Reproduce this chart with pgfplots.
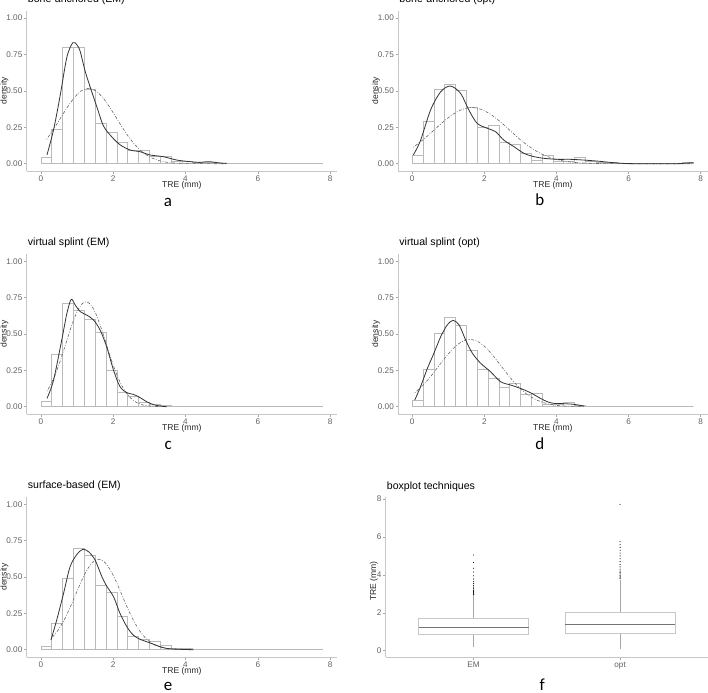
\documentclass[border=0pt]{standalone}
\usepackage{fontspec}
\setmainfont{Liberation Sans}
\newfontfamily\carlito{Carlito}
\usepackage{pgfplots}
\pgfplotsset{compat=1.18}
\usepgfplotslibrary{statistics}

\tikzset{lbl/.style={font=\fontsize{8.6}{10}\selectfont, text=black!85, inner sep=0pt},
         panel/.style={font=\carlito\fontsize{17}{20}\selectfont, anchor=base}}
\pgfplotsset{
  base/.style={
    scale only axis, clip=false,
    axis lines=left,
    axis line style={-, draw=black!22, line width=0.9bp},
    tick align=outside,
    major tick length=2.7bp,
    tick style={draw=black!35, line width=0.5bp},
    /pgf/number format/assume math mode=true,
    every tick label/.append style={inner sep=0pt, font=\fontsize{8.2}{9}\selectfont, text=black!62},
    xticklabel style={anchor=north, yshift=-2bp},
    yticklabel style={anchor=east, xshift=-1.5bp},
    title style={at={(axis description cs:0,1)}, anchor=base west, xshift=1bp, yshift=2.4bp, font=\fontsize{10.6}{12}\selectfont, inner sep=0pt},
  },
  dens/.style={
    base,
    xmin=-0.39, xmax=8.19, ymin=-0.05, ymax=1.05,
    xtick={0,2,4,6,8}, xticklabels={0,2,4,6,8},
    ytick={0,0.25,0.5,0.75,1}, yticklabels={0.00,0.25,0.50,0.75,1.00},
  },
  hist/.style={ybar, bar width=0.3, draw=black!27, fill=white, line width=0.5bp},
  kde/.style={smooth, tension=0.5, draw=black!80, line width=0.8bp, mark=none},
  nrm/.style={smooth, draw=black!60, line width=0.6bp, mark=none, dash pattern=on 0.8bp off 1.6bp on 3bp off 1.6bp},
}
\newcommand\denslabels{%
  \node[lbl, anchor=base] at ([yshift=-16.7bp]axis description cs:0.5,0) {TRE (mm)};
  \node[lbl, rotate=90, anchor=center] at ([xshift=-22.2bp]axis description cs:0,0.5) {density};
}

\begin{document}
\begin{tikzpicture}
\useasboundingbox (0bp,0bp) rectangle (708bp,693bp);

% ---------------- a
\begin{axis}[dens, at={(26.7bp,522bp)}, anchor=south west, width=310.3bp, height=160.3bp,
  title={bone-anchored (EM)}]
\addplot[hist] coordinates {(0.15,0.046)(0.45,0.238)(0.75,0.80)(1.05,0.80)(1.35,0.51)(1.65,0.277)(1.95,0.215)(2.25,0.146)(2.55,0.094)(2.85,0.094)(3.15,0.053)(3.45,0.05)(3.75,0.02)(4.05,0.015)(4.35,0.007)(4.65,0.01)(4.95,0.005)(5.25,0)(5.55,0)(5.85,0)(6.15,0)(6.45,0)(6.75,0)(7.05,0)(7.35,0)(7.65,0)};
\addplot[nrm] coordinates {(0.162,0.168)(0.355,0.237)(0.548,0.314)(0.741,0.390)(0.934,0.456)(1.127,0.501)(1.32,0.517)(1.513,0.501)(1.706,0.456)(1.899,0.390)(2.092,0.314)(2.285,0.237)(2.478,0.168)(2.671,0.112)(2.864,0.070)(3.057,0.041)(3.25,0.0227)(3.443,0.0118)(3.636,0.0057)(4.022,0.0011)(4.408,0.0002)(5.05,0)};
\addplot[kde] coordinates {(0.17,0.06)(0.35,0.23)(0.53,0.46)(0.72,0.73)(0.885,0.83)(1.0,0.815)(1.09,0.77)(1.22,0.64)(1.36,0.53)(1.55,0.39)(1.73,0.26)(1.96,0.185)(2.19,0.13)(2.47,0.094)(2.75,0.082)(3.02,0.06)(3.39,0.048)(3.76,0.025)(4.13,0.014)(4.4,0.009)(4.64,0.014)(4.96,0.005)(5.14,0.002)};
\denslabels
\end{axis}
\node[panel] at (168bp,486.3bp) {a};

% ---------------- b
\begin{axis}[dens, at={(398.2bp,522bp)}, anchor=south west, width=309.3bp, height=160.3bp,
  title={bone-anchored (opt)}]
\addplot[hist] coordinates {(0.15,0.06)(0.45,0.29)(0.75,0.51)(1.05,0.545)(1.35,0.506)(1.65,0.384)(1.95,0.247)(2.25,0.263)(2.55,0.144)(2.85,0.133)(3.15,0.071)(3.45,0.025)(3.75,0.06)(4.05,0.014)(4.35,0.018)(4.65,0.041)(4.95,0.02)(5.25,0.011)(5.55,0.008)(5.85,0.004)(6.15,0)(6.45,0)(6.75,0)(7.05,0)(7.35,0)(7.65,0.008)};
\addplot[nrm] coordinates {(0.03,0.113)(0.355,0.176)(0.614,0.2335)(0.873,0.2906)(1.132,0.3398)(1.391,0.373)(1.65,0.385)(1.909,0.373)(2.168,0.340)(2.427,0.291)(2.686,0.2335)(2.945,0.176)(3.204,0.125)(3.463,0.0833)(3.722,0.0521)(3.981,0.0306)(4.24,0.0169)(4.499,0.0088)(4.758,0.0043)(5.276,0.0008)(5.794,0.0001)(6.5,0)(7.8,0)};
\addplot[kde] coordinates {(0.03,0.06)(0.23,0.16)(0.51,0.37)(0.79,0.494)(1.06,0.533)(1.34,0.483)(1.57,0.368)(1.80,0.277)(2.08,0.243)(2.31,0.22)(2.54,0.162)(2.82,0.117)(3.10,0.071)(3.38,0.048)(3.65,0.037)(4.02,0.03)(4.39,0.03)(4.76,0.025)(5.13,0.018)(5.5,0.009)(5.87,0.002)(6.24,0)(7.2,0)(7.45,0.001)(7.63,0.005)(7.8,0.007)};
\denslabels
\end{axis}
\node[panel] at (539.7bp,487bp) {b};

% ---------------- c
\begin{axis}[dens, at={(26.7bp,279bp)}, anchor=south west, width=310.3bp, height=160bp,
  title={virtual splint (EM)}]
\addplot[hist] coordinates {(0.15,0.039)(0.45,0.36)(0.75,0.711)(1.05,0.665)(1.35,0.60)(1.65,0.509)(1.95,0.25)(2.25,0.10)(2.55,0.073)(2.85,0.034)(3.15,0.014)(3.45,0.007)(3.75,0)(4.05,0)(4.35,0)(4.65,0)(4.95,0)(5.25,0)(5.55,0)(5.85,0)(6.15,0)(6.45,0)(6.75,0)(7.05,0)(7.35,0)(7.65,0)};
\addplot[nrm] coordinates {(0.17,0.107)(0.283,0.156)(0.421,0.2344)(0.559,0.3305)(0.6975,0.4379)(0.836,0.545)(0.974,0.637)(1.112,0.6996)(1.25,0.722)(1.388,0.6996)(1.526,0.637)(1.664,0.545)(1.8025,0.4379)(1.941,0.3305)(2.079,0.2344)(2.217,0.156)(2.355,0.0977)(2.493,0.0575)(2.631,0.0317)(2.769,0.0165)(2.9075,0.008)(3.184,0.0016)(3.48,0.0002)};
\addplot[kde] coordinates {(0.17,0.057)(0.35,0.18)(0.58,0.46)(0.72,0.64)(0.84,0.738)(0.95,0.70)(1.09,0.654)(1.27,0.63)(1.46,0.596)(1.64,0.527)(1.82,0.413)(2.01,0.252)(2.19,0.138)(2.38,0.096)(2.56,0.085)(2.75,0.062)(2.93,0.034)(3.12,0.014)(3.30,0.005)(3.48,0)};
\denslabels
\end{axis}
\node[panel] at (168.3bp,243.7bp) {c};

% ---------------- d
\begin{axis}[dens, at={(398.2bp,279bp)}, anchor=south west, width=309.3bp, height=160bp,
  title={virtual splint (opt)}]
\addplot[hist] coordinates {(0.15,0.044)(0.45,0.257)(0.75,0.502)(1.05,0.612)(1.35,0.56)(1.65,0.385)(1.95,0.257)(2.25,0.193)(2.55,0.133)(2.85,0.158)(3.15,0.087)(3.45,0.094)(3.75,0.02)(4.05,0.02)(4.35,0.028)(4.65,0.011)(4.95,0)(5.25,0)(5.55,0)(5.85,0)(6.15,0)(6.45,0)(6.75,0)(7.05,0)(7.35,0)(7.65,0)};
\addplot[nrm] coordinates {(0.07,0.096)(0.307,0.150)(0.5225,0.212)(0.738,0.2808)(0.9535,0.3495)(1.169,0.4086)(1.3845,0.4486)(1.6,0.463)(1.8155,0.4486)(2.031,0.4086)(2.2465,0.3495)(2.462,0.2808)(2.6775,0.212)(2.893,0.150)(3.1085,0.100)(3.324,0.0626)(3.5395,0.0369)(3.755,0.0203)(3.9705,0.0106)(4.186,0.0051)(4.617,0.001)(4.76,0.0006)};
\addplot[kde] coordinates {(0.07,0.046)(0.23,0.138)(0.42,0.264)(0.6,0.367)(0.79,0.482)(0.97,0.562)(1.13,0.594)(1.30,0.562)(1.48,0.459)(1.67,0.367)(1.90,0.298)(2.17,0.241)(2.45,0.172)(2.73,0.149)(3.0,0.126)(3.28,0.096)(3.56,0.057)(3.75,0.034)(3.93,0.023)(4.21,0.021)(4.49,0.016)(4.76,0.005)};
\denslabels
\end{axis}
\node[panel] at (539.7bp,243.7bp) {d};

% ---------------- e
\begin{axis}[dens, at={(26.7bp,36bp)}, anchor=south west, width=310.3bp, height=160bp,
  title={surface-based (EM)}]
\addplot[hist] coordinates {(0.15,0.023)(0.45,0.179)(0.75,0.491)(1.05,0.697)(1.35,0.647)(1.65,0.44)(1.95,0.397)(2.25,0.229)(2.55,0.096)(2.85,0.071)(3.15,0.055)(3.45,0.028)(3.75,0.011)(4.05,0.007)(4.35,0)(4.65,0)(4.95,0)(5.25,0)(5.55,0)(5.85,0)(6.15,0)(6.45,0)(6.75,0)(7.05,0)(7.35,0)(7.65,0)};
\addplot[nrm] coordinates {(0.28,0.075)(0.478,0.1345)(0.6385,0.202)(0.799,0.2848)(0.959,0.3772)(1.119,0.4695)(1.2795,0.5489)(1.44,0.6027)(1.6,0.622)(1.76,0.6027)(1.9205,0.5489)(2.081,0.4695)(2.241,0.3772)(2.401,0.2848)(2.5615,0.202)(2.722,0.1345)(2.882,0.0842)(3.042,0.0495)(3.2025,0.0273)(3.363,0.0142)(3.523,0.0069)(3.8435,0.0014)(4.22,0.0001)};
\addplot[kde] coordinates {(0.28,0.067)(0.44,0.204)(0.63,0.388)(0.81,0.571)(1.0,0.656)(1.16,0.69)(1.32,0.674)(1.50,0.617)(1.69,0.502)(1.82,0.438)(2.01,0.365)(2.19,0.25)(2.38,0.158)(2.56,0.10)(2.75,0.071)(2.93,0.055)(3.12,0.037)(3.30,0.021)(3.48,0.009)(3.67,0.005)(3.94,0.002)(4.22,0)};
\denslabels
\end{axis}
\node[panel] at (168bp,2.5bp) {e};

% ---------------- f
\begin{axis}[base, at={(385.7bp,36bp)}, anchor=south west, width=322.3bp, height=159.5bp,
  xmin=0.4, xmax=2.6, ymin=-0.33, ymax=8.08,
  xtick={1,2}, xticklabels={EM,opt},
  ytick={0,2,4,6,8}, yticklabels={0,2,4,6,8},
  title={boxplot techniques},
  boxplot/draw direction=y,
  boxplot/every median/.style={draw=black!55, line width=0.6bp},
  boxplot/every box/.style={draw=black!22, line width=0.8bp},
  boxplot/every whisker/.style={draw=black!35, line width=0.5bp},
  ]
\addplot[boxplot prepared={draw position=1, lower whisker=0.18, lower quartile=0.88, median=1.25, upper quartile=1.70, upper whisker=2.93, box extend=0.75, whisker extend=0}, mark=*, mark size=0.28bp, mark options={draw=none, fill=black!40}]
  table[row sep=\\, y index=0] {y\\ 2.97\\ 3.0\\ 3.04\\ 3.08\\ 3.12\\ 3.16\\ 3.2\\ 3.27\\ 3.35\\ 3.45\\ 3.55\\ 3.65\\ 3.78\\ 3.95\\ 4.15\\ 4.35\\ 4.65\\ 5.05\\};
\addplot[boxplot prepared={draw position=2, lower whisker=0.07, lower quartile=0.93, median=1.39, upper quartile=2.04, upper whisker=3.75, box extend=0.75, whisker extend=0}, mark=*, mark size=0.28bp, mark options={draw=none, fill=black!40}]
  table[row sep=\\, y index=0] {y\\ 3.8\\ 3.85\\ 3.9\\ 3.97\\ 4.05\\ 4.12\\ 4.2\\ 4.3\\ 4.42\\ 4.55\\ 4.7\\ 4.85\\ 5.0\\ 5.15\\ 5.3\\ 5.45\\ 5.6\\ 5.75\\ 7.72\\};
\node[lbl, rotate=90, anchor=center] at ([xshift=-11.7bp, yshift=-4bp]axis description cs:0,0.5) {TRE (mm)};
\end{axis}
\node[panel] at (542.3bp,3bp) {f};
\end{tikzpicture}
\end{document}
